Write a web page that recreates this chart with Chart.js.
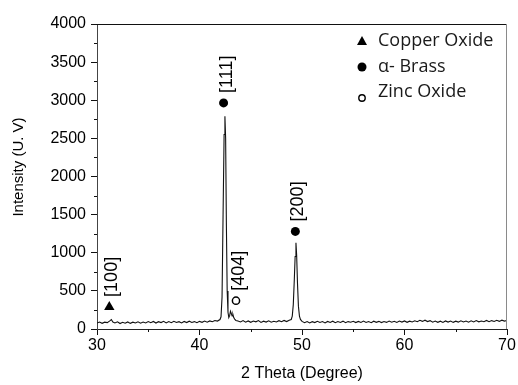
<!DOCTYPE html>
<html>
<head>
<meta charset="utf-8">
<style>
  html, body { margin: 0; padding: 0; background: #fff; }
</style>
</head>
<body>
<canvas id="xrd-chart" width="518" height="385"></canvas>
<script src="https://cdn.jsdelivr.net/npm/chart.js"></script>
<script>
// XRD pattern
const twoTheta = [
  30.00, 30.25, 30.50, 30.75, 31.00, 31.25, 31.40, 31.55, 31.75, 32.00,
  32.25, 32.50, 32.75, 33.00, 33.25, 33.50, 33.75, 34.00, 34.25, 34.50,
  34.75, 35.00, 35.25, 35.50, 35.75, 36.00, 36.25, 36.50, 36.75, 37.00,
  37.25, 37.50, 37.75, 38.00, 38.25, 38.50, 38.75, 39.00, 39.25, 39.50,
  39.75, 40.00, 40.25, 40.50, 40.75, 41.00, 41.25, 41.50, 41.75, 42.00,
  42.10, 42.20, 42.30, 42.40, 42.48, 42.55, 42.62, 42.70, 42.78, 42.86,
  42.94, 43.02, 43.10, 43.18, 43.26, 43.34, 43.45, 43.55, 43.75, 44.00,
  44.25, 44.50, 44.75, 45.00, 45.25, 45.50, 45.75, 46.00, 46.25, 46.50,
  46.75, 47.00, 47.25, 47.50, 47.75, 48.00, 48.25, 48.50, 48.75, 48.95,
  49.05, 49.15, 49.25, 49.33, 49.41, 49.48, 49.56, 49.65, 49.75, 49.85,
  50.00, 50.25, 50.50, 50.75, 51.00, 51.25, 51.50, 51.75, 52.00, 52.25,
  52.50, 52.75, 53.00, 53.25, 53.50, 53.75, 54.00, 54.25, 54.50, 54.75,
  55.00, 55.25, 55.50, 55.75, 56.00, 56.25, 56.50, 56.75, 57.00, 57.25,
  57.50, 57.75, 58.00, 58.25, 58.50, 58.75, 59.00, 59.25, 59.50, 59.75,
  60.00, 60.25, 60.50, 60.75, 61.00, 61.25, 61.50, 61.75, 62.00, 62.25,
  62.50, 62.75, 63.00, 63.25, 63.50, 63.75, 64.00, 64.25, 64.50, 64.75,
  65.00, 65.25, 65.50, 65.75, 66.00, 66.25, 66.50, 66.75, 67.00, 67.25,
  67.50, 67.75, 68.00, 68.25, 68.50, 68.75, 69.00, 69.25, 69.50, 69.75,
  70.00
];
const intensity = [
  78, 92, 74, 90, 84, 106, 124, 92, 80, 94,
  72, 88, 76, 93, 74, 90, 79, 95, 76, 92,
  80, 97, 82, 99, 78, 96, 84, 100, 80, 98,
  83, 101, 85, 96, 79, 99, 84, 102, 86, 97,
  82, 100, 88, 104, 90, 106, 95, 112, 104, 124,
  160, 420, 1500, 2550, 2790, 2500, 1400, 500, 220, 150,
  175, 232, 205, 170, 192, 150, 125, 112, 104, 92,
  110, 90, 106, 88, 104, 94, 110, 86, 103, 91,
  108, 89, 102, 93, 109, 96, 112, 98, 116, 125,
  170, 320, 650, 950, 1130, 960, 600, 300, 170, 125,
  100, 82, 98, 80, 96, 84, 101, 85, 97, 80,
  99, 86, 102, 83, 98, 85, 103, 82, 97, 88,
  101, 84, 99, 86, 104, 85, 97, 83, 102, 88,
  100, 84, 98, 87, 105, 89, 101, 86, 104, 91,
  106, 88, 103, 92, 108, 95, 114, 100, 116, 98,
  110, 90, 105, 88, 102, 86, 106, 91, 104, 87,
  103, 90, 108, 92, 105, 89, 107, 93, 110, 94,
  104, 96, 112, 95, 110, 98, 114, 100, 116, 104,
  112
];

// phase markers and their reflections
const copperX = [31.2];
const copperY = [290];
const copperHkl = ["[100]"];
const brassX = [42.35, 49.35];
const brassY = [2965, 1280];
const brassHkl = ["[111]", "[200]"];
const zincX = [43.56];
const zincY = [371];
const zincHkl = ["[404]"];

const xTicks = [30, 40, 50, 60, 70];
const yTicks = [0, 500, 1000, 1500, 2000, 2500, 3000, 3500, 4000];

const toPoints = (xs, ys) => xs.map((x, i) => ({ x: x, y: ys[i] }));
const axisFont = "'Liberation Sans', Arial, sans-serif";

// rotated reflection labels above each marker
const hklLabels = {
  id: "hklLabels",
  afterDatasetsDraw(chart) {
    const ctx = chart.ctx;
    ctx.save();
    ctx.font = "18px " + axisFont;
    ctx.fillStyle = "#000";
    ctx.textAlign = "left";
    ctx.textBaseline = "middle";
    chart.data.datasets.forEach((ds, di) => {
      if (!ds.hkl) return;
      chart.getDatasetMeta(di).data.forEach((pt, i) => {
        ctx.save();
        ctx.translate(pt.x + 3, pt.y - 10);
        ctx.rotate(-Math.PI / 2);
        ctx.fillText(ds.hkl[i], 0, 0);
        ctx.restore();
      });
    });
    ctx.restore();
  },
};

// minor ticks, top line, right border and the y title
const frame = {
  id: "frame",
  afterDraw(chart) {
    const ctx = chart.ctx;
    const a = chart.chartArea;
    const xs = chart.scales.x;
    const ys = chart.scales.y;
    ctx.save();
    ctx.lineWidth = 1;
    ctx.strokeStyle = "#111";
    ctx.beginPath();
    [35, 45, 55, 65].forEach((v) => {
      const px = Math.round(xs.getPixelForValue(v)) + 0.5;
      ctx.moveTo(px, a.bottom);
      ctx.lineTo(px, a.bottom + 3);
    });
    [250, 750, 1250, 1750, 2250, 2750, 3250, 3750].forEach((v) => {
      const py = Math.round(ys.getPixelForValue(v)) + 0.5;
      ctx.moveTo(a.left - 3, py);
      ctx.lineTo(a.left, py);
    });
    ctx.moveTo(a.left, a.top + 0.5);
    ctx.lineTo(a.right, a.top + 0.5);
    ctx.stroke();
    ctx.strokeStyle = "#8a8a8a";
    ctx.beginPath();
    ctx.moveTo(a.right - 0.5, a.top);
    ctx.lineTo(a.right - 0.5, a.bottom);
    ctx.stroke();

    ctx.translate(19, 167);
    ctx.rotate(-Math.PI / 2);
    ctx.font = "15px " + axisFont;
    ctx.fillStyle = "#000";
    ctx.textAlign = "center";
    ctx.textBaseline = "middle";
    ctx.fillText("Intensity (U. V)", 0, 0);
    ctx.restore();
  },
};

// legend in the upper right of the plot
const phaseLegend = {
  id: "phaseLegend",
  afterDraw(chart) {
    const ctx = chart.ctx;
    const mx = 362, tx = 378;
    const rows = [41, 67, 92];
    ctx.save();
    ctx.font = "18px 'Open Sans', sans-serif";
    ctx.textBaseline = "middle";
    chart.data.datasets.slice(1).forEach((ds, i) => {
      const y = rows[i];
      ctx.fillStyle = "#000";
      ctx.strokeStyle = "#000";
      if (ds.pointStyle === "triangle") {
        ctx.beginPath();
        ctx.moveTo(mx, y - 5);
        ctx.lineTo(mx + 5, y + 4);
        ctx.lineTo(mx - 5, y + 4);
        ctx.closePath();
        ctx.fill();
      } else if (ds.backgroundColor === "#000") {
        ctx.beginPath();
        ctx.arc(mx, y, 4.5, 0, Math.PI * 2);
        ctx.fill();
      } else {
        ctx.lineWidth = 1.4;
        ctx.beginPath();
        ctx.arc(mx, y + 6, 3.2, 0, Math.PI * 2);
        ctx.stroke();
      }
      ctx.fillStyle = "#1a1a1a";
      ctx.fillText(ds.label, tx, y);
    });
    ctx.restore();
  },
};

new Chart(document.getElementById("xrd-chart"), {
  type: "scatter",
  data: {
    datasets: [
      {
        label: "XRD",
        data: toPoints(twoTheta, intensity),
        showLine: true,
        borderColor: "#111",
        borderWidth: 1.1,
        pointRadius: 0,
        tension: 0,
      },
      {
        label: "Copper Oxide",
        data: toPoints(copperX, copperY),
        hkl: copperHkl,
        pointStyle: "triangle",
        pointRadius: 6,
        backgroundColor: "#000",
        borderColor: "#000",
        borderWidth: 0,
      },
      {
        label: "\u03b1- Brass",
        data: toPoints(brassX, brassY),
        hkl: brassHkl,
        pointStyle: "circle",
        pointRadius: 4.5,
        backgroundColor: "#000",
        borderColor: "#000",
        borderWidth: 0,
      },
      {
        label: "Zinc Oxide",
        data: toPoints(zincX, zincY),
        hkl: zincHkl,
        pointStyle: "circle",
        pointRadius: 3.6,
        backgroundColor: "#fff",
        borderColor: "#000",
        borderWidth: 1.5,
      },
    ],
  },
  options: {
    responsive: false,
    animation: false,
    devicePixelRatio: 1,
    layout: { padding: { top: 24, right: 11, left: 0, bottom: 0 } },
    plugins: {
      legend: { display: false },
      tooltip: { enabled: false },
    },
    scales: {
      x: {
        type: "linear",
        min: xTicks[0],
        max: xTicks[xTicks.length - 1],
        afterBuildTicks: (scale) => { scale.ticks = xTicks.map((v) => ({ value: v })); },
        afterFit: (scale) => { scale.height = 56; },
        grid: { drawOnChartArea: false, tickLength: 6, tickColor: "#111" },
        border: { color: "#222", width: 1 },
        ticks: {
          padding: 1,
          color: "#000",
          font: { family: axisFont, size: 16 },
          callback: (v) => String(v),
        },
        title: {
          display: true,
          text: "2 Theta (Degree)",
          color: "#000",
          font: { family: axisFont, size: 16 },
          padding: { top: 0, bottom: 2 },
        },
      },
      y: {
        min: yTicks[0],
        max: yTicks[yTicks.length - 1],
        afterBuildTicks: (scale) => { scale.ticks = yTicks.map((v) => ({ value: v })); },
        afterFit: (scale) => { scale.width = 97; },
        grid: { drawOnChartArea: false, tickLength: 6, tickColor: "#111" },
        border: { color: "#444", width: 1 },
        ticks: {
          padding: 5,
          color: "#000",
          font: { family: axisFont, size: 16 },
          callback: (v) => String(v),
        },
      },
    },
  },
  plugins: [hklLabels, frame, phaseLegend],
});
</script>
</body>
</html>
